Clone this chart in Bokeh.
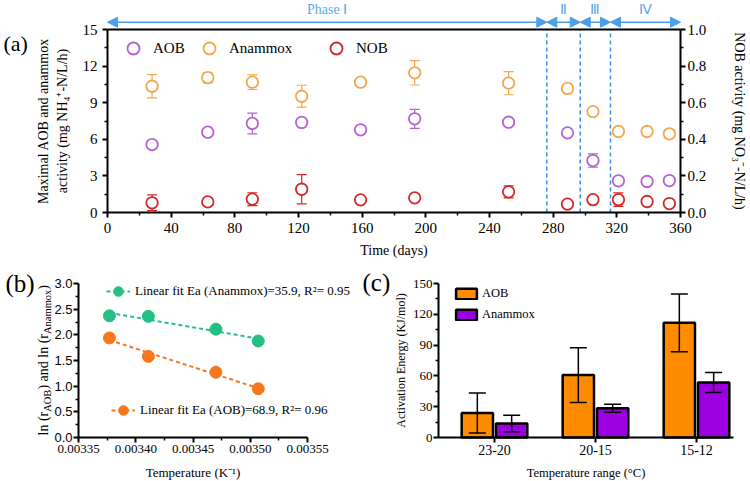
import numpy as np
from bokeh.plotting import figure
from bokeh.models import (Range1d, LinearAxis, FixedTicker, Arrow, NormalHead, TeeHead,
                          Whisker, ColumnDataSource, Legend, LegendItem, Label, PrintfTickFormatter)
from bokeh.layouts import column, row
from bokeh.core.properties import value
from bokeh.embed import file_html
from bokeh.resources import INLINE

# ---------------- data: panel (a) ----------------
days = [28, 63, 91, 122, 159, 193, 252, 289, 305, 321, 339, 353]
aob = [5.57, 6.58, 7.30, 7.38, 6.78, 7.68, 7.40, 6.53, 4.26, 2.60, 2.54, 2.62]
aob_err = [0.15, 0.10, 0.85, 0.10, 0.30, 0.78, 0.10, 0.10, 0.55, 0.10, 0.10, 0.15]
anammox = [10.35, 11.05, 10.68, 9.53, 10.68, 11.45, 10.60, 10.17, 8.27, 6.64, 6.64, 6.45]
anammox_err = [0.95, 0.40, 0.60, 0.90, 0.10, 1.00, 0.95, 0.10, 0.10, 0.10, 0.10, 0.35]
nob = [0.053, 0.058, 0.073, 0.127, 0.069, 0.080, 0.113, 0.046, 0.070, 0.070, 0.060, 0.049]
nob_err = [0.043, 0.005, 0.035, 0.080, 0.005, 0.005, 0.033, 0.005, 0.005, 0.037, 0.005, 0.005]
phase_bounds = [0, 276, 297, 316, 360]
phase_names = ["Phase \u2160", "\u2161", "\u2162", "\u2163"]
day_ticks = [0, 40, 80, 120, 160, 200, 240, 280, 320, 360]
left_ticks = [0, 3, 6, 9, 12, 15]
right_ticks = [0.0, 0.2, 0.4, 0.6, 0.8, 1.0]

# ---------------- data: panel (b) ----------------
inv_temp = [0.003377, 0.003411, 0.003470, 0.003507]
ln_anammox = [2.37, 2.36, 2.11, 1.88]
ln_aob = [1.94, 1.58, 1.27, 0.95]
b_xticks = [0.00335, 0.00340, 0.00345, 0.00350, 0.00355]
b_yticks = [0.0, 0.5, 1.0, 1.5, 2.0, 2.5, 3.0]

# ---------------- data: panel (c) ----------------
temp_ranges = ["23-20", "20-15", "15-12"]
ea_aob = [23.8, 60.8, 111.7]
ea_aob_err = [19.5, 26.6, 28.1]
ea_anammox = [13.6, 28.6, 53.6]
ea_anammox_err = [8.0, 3.9, 9.75]
c_yticks = [0, 30, 60, 90, 120, 150]

SERIF = "Liberation Serif"
SANS = "Liberation Sans"
C_AOB = "#b562d3"
C_ANX = "#f2a94e"
C_NOB = "#d62828"
C_BLUE = "#4a9fea"
C_PH = "#5ea8e6"
C_G = "#25bf85"
C_O = "#f5781e"
C_BAR1 = "#ff8c00"
C_BAR2 = "#9d00e0"


def mk_map(v0, v1, p0, p1):
    """pixel (from left / from top) -> data value"""
    return lambda p: v0 + (p - p0) * (v1 - v0) / (p1 - p0)


def style_axis(ax, size, font=SERIF, label_size="14px"):
    ax.axis_line_width = 2
    ax.axis_line_color = "black"
    ax.major_tick_line_width = 2
    ax.major_tick_in = 0
    ax.major_tick_out = 5
    ax.minor_tick_line_width = 1.5
    ax.minor_tick_in = 0
    ax.minor_tick_out = 3
    ax.major_label_text_font = font
    ax.major_label_text_font_size = size
    ax.major_label_text_color = "black"
    ax.axis_label_text_font = SERIF
    ax.axis_label_text_font_style = "normal"
    ax.axis_label_text_font_size = label_size
    ax.axis_label_text_color = "black"


def bare_fig(w, h, xr, yr):
    p = figure(width=w, height=h, x_range=xr, y_range=yr, output_backend="svg",
               toolbar_location=None, title=None, min_border=0,
               min_border_left=0, min_border_right=0, min_border_top=0, min_border_bottom=0)
    p.xgrid.visible = False
    p.ygrid.visible = False
    p.outline_line_color = None
    return p


W = 750
HA = 268
HB = 212

# ================= panel (a) =================
fxA = mk_map(0, 360, 107, 680)
fyA = mk_map(0, 15, 212, 29)
fyN = mk_map(0, 1, 212, 29)
pA = bare_fig(W, HA, Range1d(fxA(0), fxA(W)), Range1d(fyA(HA), fyA(0)))
pA.extra_y_ranges = {"nob": Range1d(fyN(HA), fyN(0))}

xa = pA.xaxis[0]
style_axis(xa, "15px")
xa.fixed_location = 0
xa.ticker = FixedTicker(ticks=day_ticks, minor_ticks=[d + 20 for d in day_ticks[:-1]])
xa.bounds = (0, 360)
xa.axis_label = "Time (days)"
xa.major_label_standoff = 5
xa.axis_label_standoff = 7

ya = pA.yaxis[0]
style_axis(ya, "15px")
ya.fixed_location = 0
ya.ticker = FixedTicker(ticks=left_ticks, minor_ticks=[t + 1.5 for t in left_ticks[:-1]])
ya.bounds = (0, 15)
ya.axis_label = "activity (mg NH\u2084\u207a-N/L/h)"
ya.major_label_standoff = 5
ya.axis_label_standoff = 10

ya2 = LinearAxis(ticker=FixedTicker(ticks=[]), axis_label="Maximal AOB and anammox",
                 fixed_location=0, bounds=(0, 15),
                 axis_line_color=None, major_tick_line_color=None, minor_tick_line_color=None,
                 major_label_text_font_size="0px", major_tick_out=0, minor_tick_out=0,
                 major_label_standoff=0, axis_label_standoff=57)
ya2.axis_label_text_font = SERIF
ya2.axis_label_text_font_style = "normal"
ya2.axis_label_text_font_size = "14px"
ya2.axis_label_text_color = "black"
pA.add_layout(ya2, "left")

yr = LinearAxis(y_range_name="nob", axis_label="NOB activity (mg NO\u2083\u207b-N/L/h)", fixed_location=360)
style_axis(yr, "15px")
yr.ticker = FixedTicker(ticks=right_ticks, minor_ticks=[t + 0.1 for t in right_ticks[:-1]])
yr.formatter = PrintfTickFormatter(format="%.1f")
yr.bounds = (0, 1)
yr.major_label_standoff = 2
yr.axis_label_standoff = 23
pA.add_layout(yr, "right")

top_ax = LinearAxis(ticker=FixedTicker(ticks=[]), fixed_location=15, bounds=(0, 360),
                    axis_line_width=2, axis_line_color="black",
                    major_tick_line_color=None, minor_tick_line_color=None,
                    major_label_text_font_size="0px", major_tick_out=0, minor_tick_out=0)
pA.add_layout(top_ax, "above")

srcA = ColumnDataSource(dict(
    day=days,
    aob=aob, aob_lo=[v - e for v, e in zip(aob, aob_err)], aob_hi=[v + e for v, e in zip(aob, aob_err)],
    anx=anammox, anx_lo=[v - e for v, e in zip(anammox, anammox_err)],
    anx_hi=[v + e for v, e in zip(anammox, anammox_err)],
    nob=nob, nob_lo=[v - e for v, e in zip(nob, nob_err)], nob_hi=[v + e for v, e in zip(nob, nob_err)],
))

for lo, hi, col, rng in [("aob_lo", "aob_hi", C_AOB, "default"), ("anx_lo", "anx_hi", C_ANX, "default"),
                         ("nob_lo", "nob_hi", C_NOB, "nob")]:
    pA.add_layout(Whisker(source=srcA, base="day", lower=lo, upper=hi, line_color=col, line_width=1.2,
                          upper_head=TeeHead(size=10, line_color=col, line_width=1.2),
                          lower_head=TeeHead(size=10, line_color=col, line_width=1.2),
                          y_range_name=rng))

rA1 = pA.scatter("day", "aob", source=srcA, marker="circle", size=11.5, line_color=C_AOB,
                 line_width=1.8, fill_color="white")
rA2 = pA.scatter("day", "anx", source=srcA, marker="circle", size=11.5, line_color=C_ANX,
                 line_width=1.8, fill_color="white")
rA3 = pA.scatter("day", "nob", source=srcA, marker="circle", size=11.5, line_color=C_NOB,
                 line_width=1.8, fill_color="white", y_range_name="nob")

for name, rend, lx in [("AOB", rA1, 118), ("Anammox", rA2, 194), ("NOB", rA3, 321)]:
    pA.add_layout(Legend(items=[LegendItem(label=name, renderers=[rend])], location=(lx, HA - 63),
                         glyph_width=30, glyph_height=30, label_standoff=5, padding=0, margin=0,
                         background_fill_alpha=0, border_line_alpha=0,
                         label_text_font=SERIF, label_text_font_size="15px", label_text_color="black"))

# phase markers
div_x = phase_bounds[1:-1]
pA.segment(x0=div_x, y0=[0] * len(div_x), x1=div_x, y1=[15] * len(div_x),
           line_color="#3d8fe3", line_width=1.5, line_dash="4 3")
arr_y = fyA(21.7)
arr_src = ColumnDataSource(dict(x0=phase_bounds[:-1], x1=phase_bounds[1:], y=[arr_y] * 4))
pA.add_layout(Arrow(source=arr_src, x_start="x0", y_start="y", x_end="x1", y_end="y",
                    line_color=C_BLUE, line_width=1.5,
                    start=NormalHead(size=10, fill_color=C_BLUE, line_color=C_BLUE),
                    end=NormalHead(size=10, fill_color=C_BLUE, line_color=C_BLUE)))
mids = [(a + b) / 2.0 for a, b in zip(phase_bounds[:-1], phase_bounds[1:])]
pA.text(x=mids, y=[fyA(8.5)] * 4, text=phase_names, text_font=value(SERIF), text_font_size="14px",
        text_color=C_PH, text_align="center", text_baseline="middle")

pA.add_layout(Label(x=fxA(3), y=fyA(43), text="(a)", text_font=SERIF, text_font_size="22px",
                    text_baseline="middle", text_align="left", text_color="black"))

# ================= panel (b) =================
WB = 358
fxB = mk_map(0.00335, 0.00355, 78, 307)
fyB = mk_map(0, 3.0, 437 - HA, 283 - HA)
pB = bare_fig(WB, HB, Range1d(fxB(0), fxB(WB)), Range1d(fyB(HB), fyB(0)))

xb = pB.xaxis[0]
style_axis(xb, "13px", label_size="13px")
xb.fixed_location = 0
xb.bounds = (0.00335, 0.00355)
xb.ticker = FixedTicker(ticks=b_xticks, minor_ticks=[t + 0.000025 for t in b_xticks[:-1]])
xb.formatter = PrintfTickFormatter(format="%.5f")
xb.axis_label = "Temperature (K\u207b\u00b9)"
xb.major_label_standoff = 2
xb.axis_label_standoff = 9

yb = pB.yaxis[0]
style_axis(yb, "13px", font=SANS)
yb.fixed_location = 0.00335
yb.bounds = (0, 3.0)
yb.ticker = FixedTicker(ticks=b_yticks, minor_ticks=[t + 0.25 for t in b_yticks[:-1]])
yb.formatter = PrintfTickFormatter(format="%.1f")
yb.major_label_standoff = 1

fit_anx = np.polyfit(inv_temp, ln_anammox, 1)
fit_aob = np.polyfit(inv_temp, ln_aob, 1)
fx = [inv_temp[0], inv_temp[-1]]
lB1 = pB.line(fx, list(np.polyval(fit_anx, fx)), line_color=C_G, line_width=2, line_dash="4 3")
lB2 = pB.line(fx, list(np.polyval(fit_aob, fx)), line_color=C_O, line_width=2, line_dash="4 3")
sB1 = pB.scatter(inv_temp, ln_anammox, marker="circle", size=12, fill_color=C_G, line_color=C_G)
sB2 = pB.scatter(inv_temp, ln_aob, marker="circle", size=12, fill_color=C_O, line_color=C_O)

for lab, rends, loc in [("Linear fit Ea (Anammox)=35.9, R\u00b2= 0.95", [lB1, sB1], (106, HB - 38)),
                        ("Linear fit Ea (AOB)=68.9, R\u00b2= 0.96", [lB2, sB2], (111, HB - 157))]:
    pB.add_layout(Legend(items=[LegendItem(label=lab, renderers=rends)], location=loc,
                         glyph_width=24, glyph_height=30, label_standoff=5, padding=0, margin=0,
                         background_fill_alpha=0, border_line_alpha=0,
                         label_text_font=SERIF, label_text_font_size="13px", label_text_color="black"))

# rotated y label with subscripts
pieces = [("ln (r", 14, 23.7, False), ("AOB", 10.5, 22.2, True), (") and ln (r", 14, 55.6, False),
          ("Anammox", 10.5, 44.3, True), (")", 14, 4.7, False)]
ypos = 167.0
for txt, fs, wdt, sub in pieces:
    pB.add_layout(Label(x=fxB(46.7 if sub else 42.7), y=fyB(ypos), text=txt,
                        angle=np.pi / 2, text_align="left", text_baseline="middle",
                        text_font=SERIF, text_font_size="%spx" % fs, text_color="black"))
    ypos -= wdt

pB.add_layout(Label(x=fxB(5), y=fyB(15), text="(b)", text_font=SERIF, text_font_size="25px",
                    text_baseline="middle", text_align="left", text_color="black"))

# ================= panel (c) =================
WC = W - WB
fxC = mk_map(0, 1, 494 - WB, 595 - WB)
fyC = mk_map(0, 150, 437 - HA, 283 - HA)
pC = bare_fig(WC, HB, Range1d(fxC(0), fxC(WC)), Range1d(fyC(HB), fyC(0)))

idx = list(range(len(temp_ranges)))
xc = pC.xaxis[0]
style_axis(xc, "14px", label_size="12.5px")
xc.fixed_location = 0
xc.bounds = (fxC(438 - WB), fxC(733 - WB))
xc.ticker = FixedTicker(ticks=idx, minor_ticks=[])
xc.major_label_overrides = {i: t for i, t in zip(idx, temp_ranges)}
xc.axis_label = "Temperature range (\u00b0C)"
xc.major_label_standoff = 2
xc.axis_label_standoff = 8

yc = pC.yaxis[0]
style_axis(yc, "13px", label_size="12px")
yc.fixed_location = fxC(438 - WB)
yc.bounds = (0, 150)
yc.ticker = FixedTicker(ticks=c_yticks, minor_ticks=[t + 15 for t in c_yticks[:-1]])
yc.axis_label = "Activation Energy (KJ/mol)"
yc.major_label_standoff = 1
yc.axis_label_standoff = 2

off = 0.17
bw = 0.31
srcC = ColumnDataSource(dict(
    x1=[i - off for i in idx], x2=[i + off for i in idx],
    a=ea_aob, a_lo=[v - e for v, e in zip(ea_aob, ea_aob_err)], a_hi=[v + e for v, e in zip(ea_aob, ea_aob_err)],
    n=ea_anammox, n_lo=[v - e for v, e in zip(ea_anammox, ea_anammox_err)],
    n_hi=[v + e for v, e in zip(ea_anammox, ea_anammox_err)],
))
rC1 = pC.vbar(x="x1", top="a", width=bw, source=srcC, fill_color=C_BAR1, line_color="black", line_width=2.5)
rC2 = pC.vbar(x="x2", top="n", width=bw, source=srcC, fill_color=C_BAR2, line_color="black", line_width=2.5)
for base, lo, hi in [("x1", "a_lo", "a_hi"), ("x2", "n_lo", "n_hi")]:
    pC.add_layout(Whisker(source=srcC, base=base, lower=lo, upper=hi, line_color="black", line_width=1.5,
                          level="overlay",
                          upper_head=TeeHead(size=17, line_color="black", line_width=1.5),
                          lower_head=TeeHead(size=17, line_color="black", line_width=1.5)))

pC.add_layout(Legend(items=[LegendItem(label="AOB", renderers=[rC1]),
                            LegendItem(label="Anammox", renderers=[rC2])],
                     location=(95, HB - 54), glyph_width=26, glyph_height=13, label_height=13,
                     label_standoff=3, spacing=6, padding=0, margin=0,
                     background_fill_alpha=0, border_line_alpha=0,
                     label_text_font=SERIF, label_text_font_size="12.5px", label_text_color="black"))

pC.add_layout(Label(x=fxC(4), y=fyC(14), text="(c)", text_font=SERIF, text_font_size="25px",
                    text_baseline="middle", text_align="left", text_color="black"))

layout = column(pA, row(pB, pC))
open("out.html", "w").write(file_html(layout, INLINE))
